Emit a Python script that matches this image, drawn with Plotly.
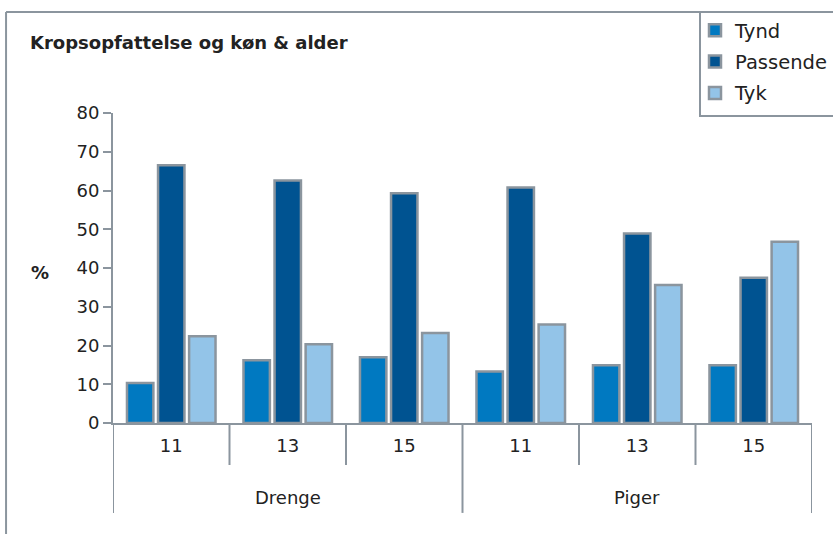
import plotly.graph_objects as go

genders = ["Drenge", "Drenge", "Drenge", "Piger", "Piger", "Piger"]
ages = ["11", "13", "15", "11", "13", "15"]
tynd = [10.3, 16.2, 17.0, 13.3, 14.9, 14.9]
passende = [66.5, 62.6, 59.3, 60.8, 48.9, 37.5]
tyk = [22.4, 20.3, 23.2, 25.4, 35.6, 46.8]

series = [("Tynd", tynd, "#0079c1"), ("Passende", passende, "#005391"), ("Tyk", tyk, "#93c4e8")]
gray = "#8b959e"
txt = "#222222"
font = "DejaVu Sans"

pos = list(range(len(ages)))

fig = go.Figure()
for name, vals, col in series:
    fig.add_trace(go.Bar(
        x=pos, y=vals, name=name, legendgroup=name,
        marker=dict(color=col, line=dict(color=gray, width=2.5)),
    ))

# category boundary lines (inner short, group boundaries long)
shapes = []
for k in range(len(ages) + 1):
    outer = k == 0 or k == len(ages) or genders[k] != genders[k - 1]
    shapes.append(dict(type="line", xref="x", yref="paper", x0=k - 0.5, x1=k - 0.5,
                       y0=0, y1=-0.29 if outer else -0.1355,
                       line=dict(color=gray, width=2)))
# outer frame lines
shapes.append(dict(type="line", xref="paper", yref="paper", x0=-0.153, x1=1.1, y0=1.3258, y1=1.3258,
                   line=dict(color=gray, width=2)))
shapes.append(dict(type="line", xref="paper", yref="paper", x0=-0.153, x1=-0.153, y0=1.3258, y1=-0.4,
                   line=dict(color=gray, width=2)))
# legend box
shapes.append(dict(type="rect", xref="paper", yref="paper",
                   x0=(700 - 113) / 699, x1=1.1, y0=(423 - 116) / 310, y1=1.3258,
                   line=dict(color=gray, width=2), fillcolor="white", layer="below"))

annotations = [
    dict(text="<b>Kropsopfattelse og køn & alder</b>", xref="paper", yref="paper",
         x=-0.1216, y=1.229, xanchor="left", yanchor="middle", showarrow=False,
         font=dict(size=18, family=font, color=txt)),
    dict(text="<b>%</b>", xref="paper", yref="paper", x=-0.1044, y=0.487,
         xanchor="center", yanchor="middle", showarrow=False,
         font=dict(size=18, family=font, color=txt)),
]
groups = []
for i, g in enumerate(genders):
    if not groups or groups[-1][0] != g:
        groups.append([g, i, i])
    else:
        groups[-1][2] = i
for g, a, b in groups:
    annotations.append(dict(text=g, xref="x", yref="paper", x=(a + b) / 2, y=-0.239,
                            xanchor="center", yanchor="middle", showarrow=False,
                            font=dict(size=18, family=font, color=txt)))

fig.update_layout(
    width=833, height=534,
    margin=dict(l=113, r=21, t=113, b=111, autoexpand=False),
    paper_bgcolor="white", plot_bgcolor="white",
    barmode="group", bargap=0.2, bargroupgap=0.15,
    font=dict(family=font, size=18, color=txt),
    showlegend=True,
    legend=dict(xref="container", yref="container", x=695 / 833, xanchor="left",
                y=1 - 11 / 534, yanchor="top",
                borderwidth=0, bgcolor="rgba(0,0,0,0)",
                font=dict(size=19.5, color=txt),
                traceorder="grouped", tracegroupgap=3,
                itemwidth=30),
    xaxis=dict(range=[-0.5, len(ages) - 0.5], tickvals=pos, ticktext=ages,
               showline=True, linecolor=gray, linewidth=2, ticks="",
               ticklabelstandoff=5, showgrid=False, zeroline=False,
               automargin=False, tickfont=dict(size=18)),
    yaxis=dict(range=[0, 80], dtick=10, showline=True, linecolor=gray, linewidth=2,
               ticks="outside", ticklen=8, tickcolor=gray, tickwidth=2,
               showgrid=False, zeroline=False, automargin=False, tickfont=dict(size=18)),
    annotations=annotations,
    shapes=shapes,
)
fig.write_html("out.html", config={"displayModeBar": False},
               post_script="document.body.style.margin='0';")
